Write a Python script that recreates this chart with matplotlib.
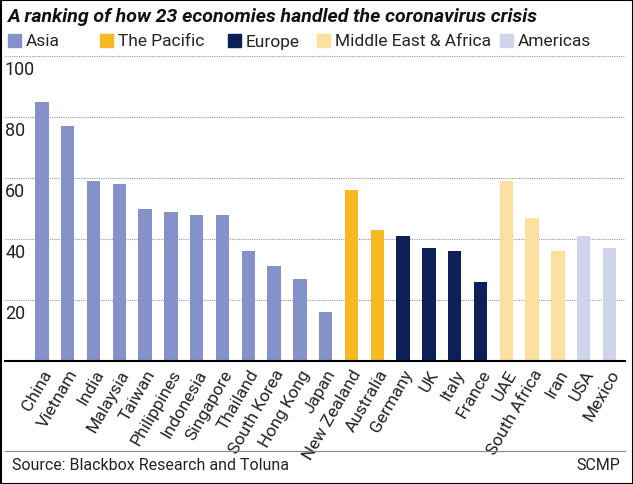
import matplotlib.pyplot as plt
import matplotlib.transforms as mtransforms
from matplotlib.patches import Rectangle

plt.rcParams["font.family"] = "Roboto"

countries = ["China", "Vietnam", "India", "Malaysia", "Taiwan", "Philippines", "Indonesia",
             "Singapore", "Thailand", "South Korea", "Hong Kong", "Japan", "New Zealand",
             "Australia", "Germany", "UK", "Italy", "France", "UAE", "South Africa", "Iran",
             "USA", "Mexico"]
scores = [85, 77, 59, 58, 50, 49, 48, 48, 36, 31, 27, 16, 56, 43, 41, 37, 36, 26, 59, 47, 36, 41, 37]
regions = ["Asia"] * 12 + ["The Pacific"] * 2 + ["Europe"] * 4 + ["Middle East & Africa"] * 3 + ["Americas"] * 2
region_names = ["Asia", "The Pacific", "Europe", "Middle East & Africa", "Americas"]
region_colors = {"Asia": "#8592c9", "The Pacific": "#f8b822", "Europe": "#0c1f56",
                 "Middle East & Africa": "#fbe0a2", "Americas": "#d0d4ea"}
yticks = [20, 40, 60, 80, 100]

W, H = 633, 485
fig = plt.figure(figsize=(W / 100, H / 100), dpi=100)
ax = fig.add_axes([5 / W, 1 - 362 / H, 620 / W, 305 / H])

x = range(len(countries))
ax.bar(x, scores, width=0.52, color=[region_colors[r] for r in regions])
ax.set_ylim(0, 100)
ax.set_xlim(-1.43, 22.6)
for s in ["top", "right", "left"]:
    ax.spines[s].set_visible(False)
ax.spines["bottom"].set_linewidth(1.5)
ax.set_yticks([])
ax.set_xticks(list(x))
blend = mtransforms.blended_transform_factory(ax.transAxes, ax.transData)
for v in yticks:
    ax.axhline(v, color="#999999", lw=0.8, ls=(0, (1, 1)), zorder=0, clip_on=False)
    ax.text(0, v - 1.2, str(v), transform=blend, fontsize=13, color="#222222", va="top", ha="left")
ax.set_xticklabels(countries, rotation=60, ha="right", rotation_mode="anchor", fontsize=12.5, color="#222222")
ax.tick_params(axis="x", length=0, pad=4)

fig.text(8 / W, 1 - 17 / H, "A ranking of how 23 economies handled the coronavirus crisis",
         fontsize=14, style="italic", weight="bold", va="center", color="#111111")
lx = [8, 100, 228, 317, 500]
for name, px in zip(region_names, lx):
    fig.patches.append(Rectangle((px / W, 1 - 48 / H), 13 / W, 13 / H, color=region_colors[name],
                                 transform=fig.transFigure, figure=fig))
    fig.text((px + 18) / W, 1 - 42 / H, name, fontsize=12.5, va="center", color="#222222")

fig.add_artist(plt.Line2D([5 / W, 625 / W], [1 - 452 / H, 1 - 452 / H], color="#888888", lw=0.8))
fig.text(12 / W, 1 - 466 / H, "Source: Blackbox Research and Toluna", fontsize=11.5, va="center", color="#222222")
fig.text(620 / W, 1 - 466 / H, "SCMP", fontsize=11.5, va="center", ha="right", color="#222222")
fig.add_artist(Rectangle((0.5 / W, 0.5 / H), 1 - 1 / W, 1 - 1 / H, fill=False, ec="black", lw=1.5,
                         transform=fig.transFigure))

fig.savefig("out.png", dpi=100)
